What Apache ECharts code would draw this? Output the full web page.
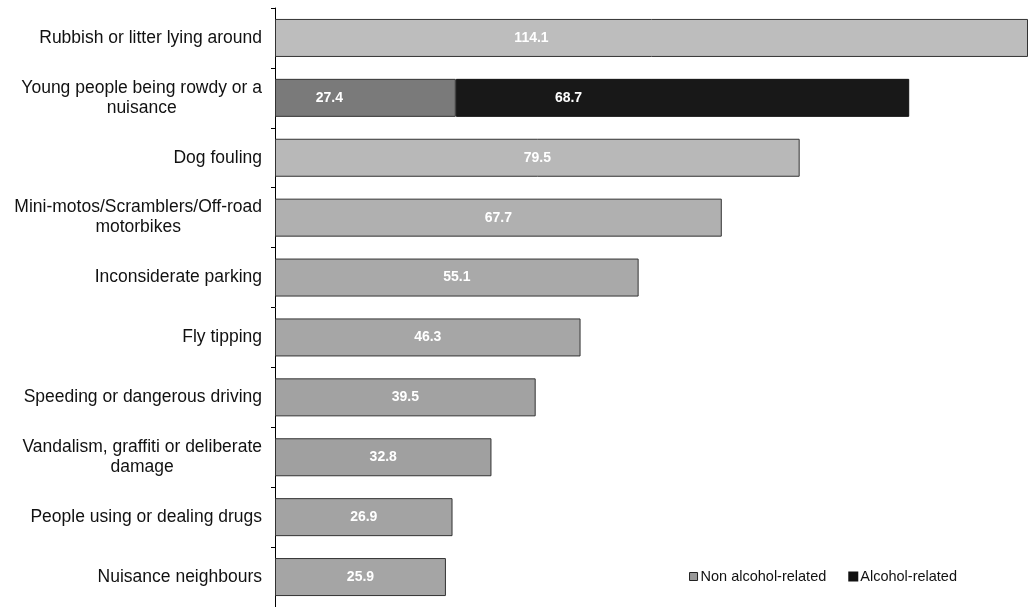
<!DOCTYPE html>
<html>
<head>
<meta charset="utf-8">
<script src="https://cdn.jsdelivr.net/npm/echarts@6/dist/echarts.min.js"></script>
<style>html,body{margin:0;padding:0;background:#fff}#c{width:1028px;height:607px}</style>
</head>
<body>
<div id="c"></div>
<script>
const categories = [
  "Rubbish or litter lying around",
  "Young people being rowdy or a\nnuisance",
  "Dog fouling",
  "Mini-motos/Scramblers/Off-road\nmotorbikes",
  "Inconsiderate parking",
  "Fly tipping",
  "Speeding or dangerous driving",
  "Vandalism, graffiti or deliberate\ndamage",
  "People using or dealing drugs",
  "Nuisance neighbours"
];
const nonAlcohol = [114.1, 27.4, 79.5, 67.7, 55.1, 46.3, 39.5, 32.8, 26.9, 25.9];
const alcohol = [null, 68.7, null, null, null, null, null, null, null, null];
const seriesNames = ["Non alcohol-related", "Alcohol-related"];

const FONT = 'Liberation Sans, Arial, sans-serif';
const greys = ['#bdbdbd','#7a7a7a','#b8b8b8','#b0b0b0','#a9a9a9','#a6a6a6','#a2a2a2','#a0a0a0','#a3a3a3','#a5a5a5'];
const nonData = nonAlcohol.map((v, i) => {
  const d = { value: v, itemStyle: { color: greys[i] } };
  if (i === 0) d.label = { offset: [-120, 0] };
  if (i === 1) d.label = { offset: [-36, 0] };
  return d;
});
const alcData = alcohol.map(v => v == null ? null : { value: v, label: { offset: [-114, 0] } });

const chart = echarts.init(document.getElementById('c'));
chart.setOption({
  animation: false,
  grid: { left: 275, right: 0, top: 8, bottom: 0, containLabel: false },
  xAxis: { type: 'value', min: 0, max: 114.1, show: false },
  yAxis: {
    type: 'category', data: categories, inverse: true,
    axisLine: { lineStyle: { color: '#000', width: 1 } },
    axisTick: { show: true, length: 4, lineStyle: { color: '#000' } },
    axisLabel: {
      margin: 13, color: '#111', fontFamily: FONT, fontSize: 17.5, lineHeight: 20, align: 'right',
      formatter: v => v.split('\n').map(s => '{c|' + s + '}').join('\n'),
      rich: { c: { align: 'center', fontFamily: FONT, fontSize: 17.5, lineHeight: 20, color: '#111' } }
    }
  },
  legend: {
    right: 66, bottom: 18, itemWidth: 8, itemHeight: 8, itemGap: 22,
    textStyle: { fontFamily: FONT, fontSize: 14.5, color: '#111', padding: [0, 0, 0, -2] },
    data: [
      { name: seriesNames[0], icon: 'rect', itemStyle: { color: '#9a9a9a', borderColor: '#222', borderWidth: 1 } },
      { name: seriesNames[1], icon: 'rect', itemStyle: { color: '#111' } }
    ]
  },
  series: [
    {
      name: seriesNames[0], type: 'bar', stack: 's', data: nonData, barWidth: 38,
      itemStyle: { color: '#a8a8a8', borderColor: '#333', borderWidth: 1 },
      label: { show: true, position: 'inside', color: '#fff', fontFamily: FONT, fontSize: 14, fontWeight: 'bold' }
    },
    {
      name: seriesNames[1], type: 'bar', stack: 's', data: alcData, barWidth: 38,
      itemStyle: { color: '#181818', borderColor: '#111', borderWidth: 1 },
      label: { show: true, position: 'inside', color: '#fff', fontFamily: FONT, fontSize: 14, fontWeight: 'bold' }
    }
  ]
});
</script>
</body>
</html>
